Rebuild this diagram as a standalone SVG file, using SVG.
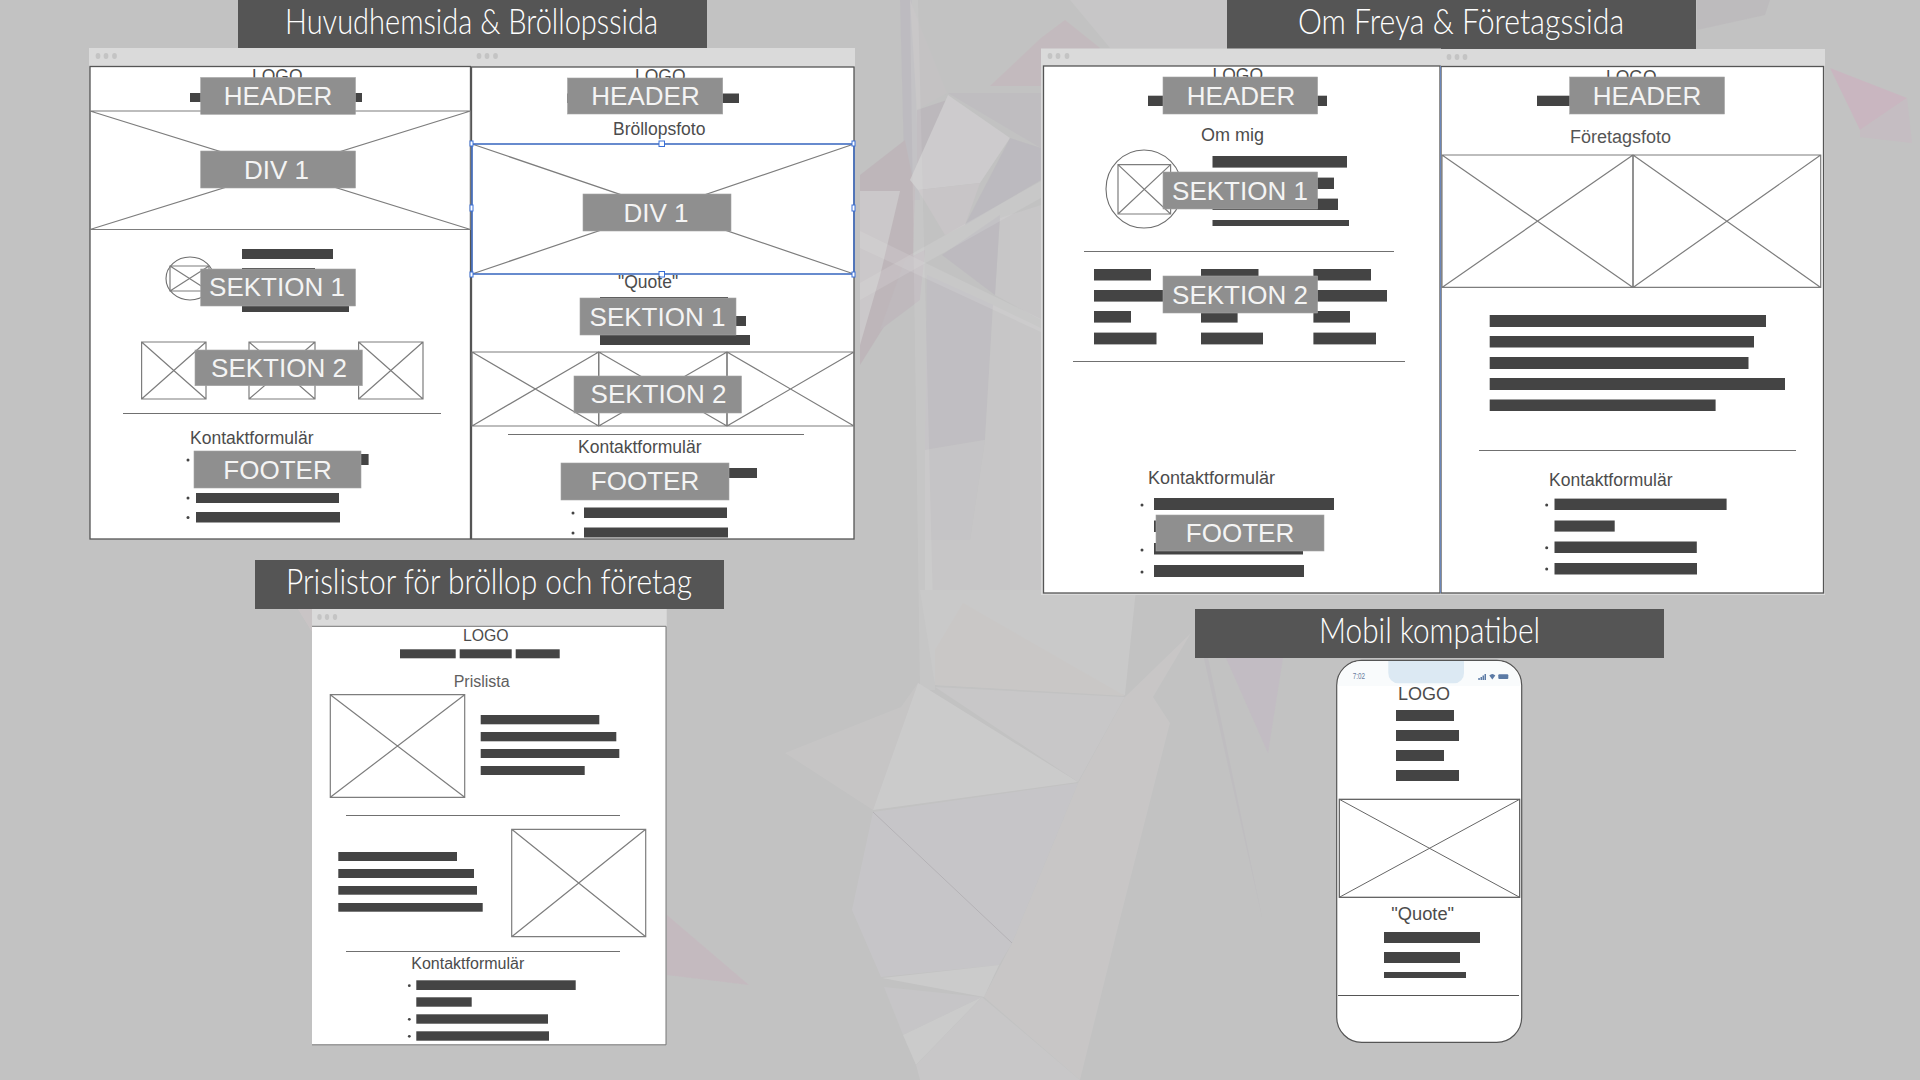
<svg xmlns="http://www.w3.org/2000/svg" width="1920" height="1080" viewBox="0 0 1920 1080">
<style>
.t{fill:#555}
.tt{font-family:"Lato","Liberation Sans",sans-serif;font-weight:300;font-size:36px;fill:#fff;text-anchor:start}
.c{fill:#dadada}
.d{fill:#c4c4c4}
.p{fill:#fff;stroke:#555;stroke-width:1.3}
.b{fill:#444}
.x{fill:none;stroke:#7d7d7d;stroke-width:1.2}
.l{stroke:#707070;stroke-width:1.2;fill:none}
.o{fill:#fff;stroke:#6e6e6e;stroke-width:1.1}
.g{fill:#8f8f8f;stroke:#a3a3a3;stroke-width:.6}
.lt{font-family:"Liberation Sans",Arial,sans-serif;font-size:26px;fill:#f4f4f4;text-anchor:middle}
.s{font-family:"Liberation Sans",Arial,sans-serif;font-size:17.5px;fill:#4c4c4c}
.h{fill:#fff;stroke:#3a70d8;stroke-width:1}
.bl{fill:none;stroke:#3a70d8;stroke-width:1.3}
.i{fill:#5b7aa5}
</style>
<rect id="bg" width="1920" height="1080" fill="#c2c2c2"/>
<g id="background" opacity=".55">
<polygon points="900,0 912,0 920,200 905,200" fill="#bab7bf"/>
<polygon points="910,0 947,93 917,110" fill="#c6c3c5"/>
<polygon points="860,175 905,140 915,190 912,290 885,325 860,365" fill="#bcaeb5"/>
<polygon points="860,191 900,191 880,276 860,345" fill="#d4ced1"/>
<polygon points="990,86 1041,38 1065,20 1100,48 1041,86" fill="#c5b5bb"/>
<polygon points="1070,0 1227,0 1227,48 1110,48" fill="#cccbcc"/>
<polygon points="948,93 1041,93 1041,148" fill="#bdb9c0"/>
<polygon points="917,110 947,100 925,170 917,170" fill="#b8b0b8"/>
<polygon points="948,95 1010,138 980,183 918,190 910,180" fill="#d6d4d6"/>
<polygon points="918,190 980,183 965,225 945,235" fill="#cec8cc"/>
<polygon points="1010,138 1041,148 1041,180 965,225" fill="#b8b5bd"/>
<polygon points="1041,205 1041,320 995,295 1000,218" fill="#cccacc"/>
<polygon points="942,255 1000,215 995,295" fill="#b9b5be"/>
<polygon points="927,275 993,305 985,440 925,450" fill="#c0bcc3"/>
<polygon points="993,305 1041,328 1041,540 970,540 985,440" fill="#cccbcc"/>
<polygon points="925,450 985,440 970,540 925,540" fill="#c9c7ca"/>
<polygon points="1041,540 1041,595 925,595 925,540" fill="#cccbcc"/>
<polygon points="905,260 925,250 920,300 880,330" fill="#bdb2ba"/>
<polygon points="860,231 860,248 1041,332 1041,319" fill="#fff" fill-opacity=".18"/>
<polygon points="860,283 860,300 1041,198 1041,181" fill="#fff" fill-opacity=".18"/>
<polygon points="910,0 918,0 935,690 920,690" fill="#fff" fill-opacity=".16"/>
<polygon points="920,590 1136,590 1125,695 935,685" fill="#cfcfcf"/>
<polygon points="963,603 1125,696 935,685 935,650" fill="#d0ccca"/>
<polygon points="785,753 901,707 918,683 873,810" fill="#cbc9c9"/>
<polygon points="918,683 1078,782 873,810" fill="#d4d3d4"/>
<polygon points="935,687 1125,697 1078,782" fill="#cdcccd"/>
<polygon points="1191,633 1153,697 1170,723 1119,923 1080,1080 984,997 1012,943 1078,783 1125,697" fill="#cdcbcb"/>
<polygon points="873,812 1078,783 1012,943 999,965 881,977 852,910" fill="#cbc9ce"/>
<polygon points="882,978 999,965 984,997" fill="#d3d3d3"/>
<polygon points="884,987 982,997 903,1035" fill="#cac9cc"/>
<polygon points="903,1035 982,997 916,1065" fill="#d3d3d3"/>
<polygon points="982,997 1080,1080 920,1080 916,1065" fill="#cdcccd"/>
<path d="M873 812 L1012 943" stroke="#aaa6ad" stroke-width="1" fill="none"/>
<polygon points="667,915 749,985 667,975" fill="#c7b5bd"/>
<polygon points="1226,658 1283,658 1268,753" fill="#c2b8c4"/>
<polygon points="1204,658 1208,658 1262,917" fill="#bdb9c0"/>
<polygon points="1830,68 1907,98 1860,130" fill="#d0aec0"/>
<polygon points="1860,130 1907,98 1912,143 1860,137" fill="#c9b9c2"/>
<polygon points="1697,0 1770,0 1765,15 1697,30" fill="#bab6ba"/>
<polygon points="296,606 312,606 312,632" fill="#cfc6c9"/>
</g>

<g id="title-1"><rect class="t" x="238" y="0" width="469" height="48"/><text class="tt" x="285" y="34" textLength="373" lengthAdjust="spacingAndGlyphs">Huvudhemsida &amp; Bröllopssida</text></g>
<g id="title-2"><rect class="t" x="1227" y="0" width="469" height="49"/><text class="tt" x="1298" y="34" textLength="326" lengthAdjust="spacingAndGlyphs">Om Freya &amp; Företagssida</text></g>
<g id="title-3"><rect class="t" x="255" y="560" width="469" height="49"/><text class="tt" x="286" y="594" textLength="406" lengthAdjust="spacingAndGlyphs">Prislistor för bröllop och företag</text></g>
<g id="title-4"><rect class="t" x="1195" y="609" width="469" height="49"/><text class="tt" x="1319" y="643" textLength="221" lengthAdjust="spacingAndGlyphs">Mobil kompatibel</text></g>

<g id="page-hem">
<rect class="c" x="89" y="48" width="382" height="19"/>
<ellipse class="d" cx="98" cy="56" rx="2.400" ry="3"/><ellipse class="d" cx="106" cy="56" rx="2.400" ry="3"/><ellipse class="d" cx="114.500" cy="56" rx="2.400" ry="3"/>
<rect class="p" x="90" y="66.500" width="380.500" height="472.500"/>
<text class="s" x="252" y="82">LOGO</text>
<rect class="b" x="190" y="93" width="172" height="9"/>
<path class="x" d="M90 111H470.500V229.500H90ZM90 111L470.500 229.500M470.500 111L90 229.500"/>
<rect class="g" x="200.700" y="77.500" width="154.800" height="36.800"/><text class="lt" x="278" y="105">HEADER</text>
<rect class="g" x="200.700" y="151" width="154.800" height="37"/><text class="lt" x="276.500" y="179">DIV 1</text>
<rect class="b" x="242" y="249" width="91" height="10"/>
<ellipse class="o" cx="190" cy="278.500" rx="24" ry="21.500"/>
<path class="x" d="M170 266H209V291H170ZM170 266L209 291M209 266L170 291"/>
<rect class="b" x="242" y="268" width="73" height="10"/>
<rect class="b" x="242" y="300" width="107" height="12"/>
<rect class="g" x="200.700" y="269" width="154.800" height="37"/><text class="lt" x="277" y="296">SEKTION 1</text>
<path class="x" d="M141.600 342H206V399H141.600ZM141.600 342L206 399M206 342L141.600 399"/>
<path class="x" d="M249 342H315V399H249ZM249 342L315 399M315 342L249 399"/>
<path class="x" d="M358.600 342H423V399H358.600ZM358.600 342L423 399M423 342L358.600 399"/>
<rect class="g" x="195" y="350" width="167.300" height="35.700"/><text class="lt" x="279" y="377">SEKTION 2</text>
<path class="l" d="M123 413.500H441"/>
<text class="s" x="190" y="443.500">Kontaktformulär</text>
<circle class="b" cx="188" cy="460" r="1.500"/><circle class="b" cx="188" cy="498" r="1.500"/><circle class="b" cx="188" cy="517.500" r="1.500"/>
<rect class="b" x="196" y="454" width="172.600" height="11"/>
<rect class="b" x="196" y="493" width="143" height="10"/>
<rect class="b" x="196" y="512" width="144" height="10.500"/>
<rect class="g" x="194" y="451" width="167" height="37"/><text class="lt" x="277.500" y="479">FOOTER</text>
</g>

<g id="page-brollop">
<rect class="c" x="471" y="48" width="384" height="19"/>
<ellipse class="d" cx="479" cy="56" rx="2.400" ry="3"/><ellipse class="d" cx="487" cy="56" rx="2.400" ry="3"/><ellipse class="d" cx="495.500" cy="56" rx="2.400" ry="3"/>
<rect class="p" x="471.500" y="67" width="382.500" height="472"/>
<text class="s" x="635" y="82">LOGO</text>
<rect class="b" x="567" y="93.500" width="172" height="9.500"/>
<rect class="g" x="567.500" y="78" width="155.200" height="36"/><text class="lt" x="645.500" y="105">HEADER</text>
<text class="s" x="613" y="134.500">Bröllopsfoto</text>
<path class="x" d="M472 144H854V274H472ZM472 144L854 274M854 144L472 274"/>
<rect class="bl" x="472" y="144" width="382" height="130"/>
<rect class="g" x="583" y="194" width="148" height="37"/><text class="lt" x="656" y="222">DIV 1</text>
<rect class="h" x="659" y="141" width="5.500" height="5.500"/><rect class="h" x="659" y="271.500" width="5.500" height="5.500"/>
<rect class="h" x="470" y="205" width="3" height="6"/><rect class="h" x="852" y="205" width="3" height="6"/>
<rect class="h" x="470" y="141" width="3" height="5"/><rect class="h" x="852" y="141" width="3" height="5"/>
<rect class="h" x="470" y="272" width="3" height="5"/><rect class="h" x="852" y="272" width="3" height="5"/>
<text class="s" x="618" y="288">"Quote"</text>
<rect class="b" x="600" y="297" width="128" height="6"/>
<rect class="b" x="600" y="316" width="146" height="10"/>
<rect class="b" x="600" y="335" width="150" height="10"/>
<rect class="g" x="580" y="298" width="156" height="37"/><text class="lt" x="657.500" y="326">SEKTION 1</text>
<path class="x" d="M472 352H598.700V426H472ZM472 352L598.700 426M598.700 352L472 426"/>
<path class="x" d="M598.700 352H727V426H598.700ZM598.700 352L727 426M727 352L598.700 426"/>
<path class="x" d="M727 352H854V426H727ZM727 352L854 426M854 352L727 426"/>
<rect class="g" x="574" y="376" width="167.500" height="37"/><text class="lt" x="658.500" y="403">SEKTION 2</text>
<path class="l" d="M508 434.500H804"/>
<text class="s" x="578" y="453">Kontaktformulär</text>
<rect class="b" x="729" y="468" width="28" height="10"/>
<rect class="g" x="561" y="463" width="168" height="37"/><text class="lt" x="645" y="490">FOOTER</text>
<circle class="b" cx="573" cy="513" r="1.500"/><circle class="b" cx="573" cy="533" r="1.500"/>
<rect class="b" x="584" y="507.500" width="143" height="10.500"/>
<rect class="b" x="584" y="527.500" width="144" height="10"/>
</g>

<g id="page-om">
<rect class="c" x="1041" y="48.500" width="400" height="18"/>
<ellipse class="d" cx="1050" cy="56" rx="2.400" ry="3"/><ellipse class="d" cx="1058" cy="56" rx="2.400" ry="3"/><ellipse class="d" cx="1067" cy="56" rx="2.400" ry="3"/>
<rect x="1041" y="66" width="2" height="529" class="c"/>
<rect x="1041" y="593" width="400" height="2" class="c"/>
<rect class="p" x="1043.500" y="66" width="396.500" height="527"/>
<text class="s" x="1212.500" y="81">LOGO</text>
<rect class="b" x="1148" y="95.700" width="179" height="10.300"/>
<rect class="g" x="1163" y="77" width="154.600" height="37"/><text class="lt" x="1241" y="105">HEADER</text>
<text class="s" x="1201" y="141" style="font-size:18px">Om mig</text>
<ellipse class="o" cx="1144" cy="189" rx="38" ry="39"/>
<path class="x" d="M1118 164.600H1170.600V214H1118ZM1118 164.600L1170.600 214M1170.600 164.600L1118 214"/>
<rect class="b" x="1212.500" y="156" width="134.500" height="11.600"/>
<rect class="b" x="1212.500" y="177.600" width="121.500" height="11.400"/>
<rect class="b" x="1212.500" y="198.600" width="125.500" height="11.400"/>
<rect class="b" x="1212.500" y="220" width="136.500" height="6"/>
<rect class="g" x="1163" y="172" width="154.600" height="37"/><text class="lt" x="1240" y="200">SEKTION 1</text>
<path class="l" d="M1084 251.500H1394"/>
<rect class="b" x="1094" y="269" width="57" height="11.500"/><rect class="b" x="1094" y="290" width="75" height="11.600"/><rect class="b" x="1094" y="311" width="37" height="11.600"/><rect class="b" x="1094" y="332.600" width="62.500" height="11.800"/>
<rect class="b" x="1201" y="269" width="57.500" height="11.500"/><rect class="b" x="1201" y="311" width="36.600" height="11.600"/><rect class="b" x="1201" y="332.600" width="62" height="11.800"/>
<rect class="b" x="1313.400" y="269" width="57.600" height="11.500"/><rect class="b" x="1313.400" y="290" width="73.600" height="11.600"/><rect class="b" x="1313.400" y="311" width="36.600" height="11.600"/><rect class="b" x="1313.400" y="332.600" width="62.600" height="11.800"/>
<rect class="g" x="1163" y="276" width="154.600" height="37"/><text class="lt" x="1240" y="304">SEKTION 2</text>
<path class="l" d="M1073 361.500H1405"/>
<text class="s" x="1148" y="484" style="font-size:18px">Kontaktformulär</text>
<circle class="b" cx="1142" cy="505" r="1.500"/><circle class="b" cx="1142" cy="550" r="1.500"/><circle class="b" cx="1142" cy="572" r="1.500"/>
<rect class="b" x="1154" y="498" width="180" height="12"/>
<rect class="b" x="1154" y="520.500" width="10" height="11.500"/>
<rect class="b" x="1154" y="543" width="149" height="11.500"/>
<rect class="b" x="1154" y="565" width="150" height="12"/>
<rect class="g" x="1156" y="515" width="168" height="36"/><text class="lt" x="1240" y="542">FOOTER</text>
</g>

<g id="page-foretag">
<rect class="c" x="1441" y="49" width="384" height="17.500"/>
<ellipse class="d" cx="1449" cy="57" rx="2.400" ry="3"/><ellipse class="d" cx="1457" cy="57" rx="2.400" ry="3"/><ellipse class="d" cx="1465" cy="57" rx="2.400" ry="3"/>
<rect x="1823" y="66" width="2" height="529" class="c"/>
<rect x="1440" y="593" width="385" height="2" class="c"/>
<rect class="p" x="1441" y="66.500" width="382.500" height="526.500"/>
<path d="M1440.500 66V593" stroke="#6d8fcf" stroke-width=".8" fill="none"/>
<text class="s" x="1606" y="83">LOGO</text>
<rect class="b" x="1537" y="95.700" width="40" height="10.300"/>
<rect class="g" x="1569.700" y="77" width="154.800" height="37"/><text class="lt" x="1647" y="105">HEADER</text>
<text class="s" x="1570" y="143" style="font-size:18px;fill:#555">Företagsfoto</text>
<path class="x" d="M1442 155H1633V287.400H1442ZM1442 155L1633 287.400M1633 155L1442 287.400"/>
<path class="x" d="M1633 155H1820.700V287.400H1633ZM1633 155L1820.700 287.400M1820.700 155L1633 287.400"/>
<rect class="b" x="1489.700" y="315" width="276.300" height="12"/>
<rect class="b" x="1489.700" y="336" width="264.300" height="11.500"/>
<rect class="b" x="1489.700" y="357" width="258.800" height="12"/>
<rect class="b" x="1489.700" y="378" width="295.300" height="12"/>
<rect class="b" x="1489.700" y="399.500" width="225.900" height="11.500"/>
<path class="l" d="M1479 450.500H1796"/>
<text class="s" x="1549" y="486">Kontaktformulär</text>
<circle class="b" cx="1546.700" cy="505" r="1.500"/><circle class="b" cx="1546.700" cy="547.700" r="1.500"/><circle class="b" cx="1546.700" cy="569" r="1.500"/>
<rect class="b" x="1554.500" y="498.600" width="172.100" height="11.400"/>
<rect class="b" x="1554.500" y="520.500" width="60.200" height="11.100"/>
<rect class="b" x="1554.500" y="541.500" width="142.300" height="11.500"/>
<rect class="b" x="1554.500" y="563" width="142.500" height="11.500"/>
</g>

<g id="page-prislista">
<rect class="c" x="312" y="609" width="354.700" height="17.500"/>
<ellipse class="d" cx="319.500" cy="617" rx="2.200" ry="3"/><ellipse class="d" cx="327" cy="617" rx="2.200" ry="3"/><ellipse class="d" cx="335" cy="617" rx="2.200" ry="3"/>
<rect x="312" y="626.300" width="354" height="418.500" fill="#fff"/>
<path d="M312 626.300H666V1044.800H312" fill="none" stroke="#777" stroke-width="1"/>
<text class="s" x="463" y="640.700" style="font-size:15.800px">LOGO</text>
<rect class="b" x="400" y="649.300" width="55.700" height="9"/><rect class="b" x="459.700" y="649.300" width="52" height="9"/><rect class="b" x="515.700" y="649.300" width="44" height="9"/>
<text class="s" x="453.700" y="687.300" style="font-size:16px;fill:#606060">Prislista</text>
<path class="x" d="M330.300 694.700H464.700V797.300H330.300ZM330.300 694.700L464.700 797.300M464.700 694.700L330.300 797.300"/>
<rect class="b" x="480.700" y="715" width="118.600" height="9.300"/><rect class="b" x="480.700" y="732" width="135.600" height="9.300"/><rect class="b" x="480.700" y="749" width="138.600" height="9"/><rect class="b" x="480.700" y="766" width="104" height="9"/>
<path class="l" d="M346 815.500H620"/>
<path class="x" d="M511.700 829.300H645.700V936.700H511.700ZM511.700 829.300L645.700 936.700M645.700 829.300L511.700 936.700"/>
<rect class="b" x="338.300" y="852" width="118.700" height="9"/><rect class="b" x="338.300" y="869" width="135.700" height="9"/><rect class="b" x="338.300" y="886" width="138.700" height="8.700"/><rect class="b" x="338.300" y="903" width="144.400" height="8.700"/>
<path class="l" d="M346 951.500H620"/>
<text class="s" x="411.300" y="969.300" style="font-size:16px">Kontaktformulär</text>
<circle class="b" cx="409.300" cy="985.700" r="1.400"/><circle class="b" cx="409.300" cy="1019.300" r="1.400"/><circle class="b" cx="409.300" cy="1036.300" r="1.400"/>
<rect class="b" x="416.300" y="980.300" width="159.400" height="9.700"/><rect class="b" x="416.300" y="997.300" width="55.400" height="9.400"/><rect class="b" x="416.300" y="1014.300" width="131.700" height="9.400"/><rect class="b" x="416.300" y="1031.300" width="132.700" height="9.400"/>
</g>

<g id="page-mobil">
<rect x="1336.700" y="660.300" width="185" height="382" rx="25" fill="#fff" stroke="#555" stroke-width="1.200"/>
<path d="M1338 686V685A24 24 0 0 1 1362 661H1496A24 24 0 0 1 1520 685V686Z" fill="#f9fbfc"/>
<path d="M1388.300 661H1464V673A10 10 0 0 1 1454 683.300H1398.300A10 10 0 0 1 1388.300 673Z" fill="#dce9f3"/>
<text x="1352.700" y="679" font-family="Liberation Sans, Arial, sans-serif" font-size="9" fill="#6a7da0" textLength="12.300" lengthAdjust="spacingAndGlyphs">7:02</text>
<rect class="i" x="1478.300" y="678" width="1.500" height="2"/><rect class="i" x="1480.500" y="677" width="1.500" height="3"/><rect class="i" x="1482.500" y="675.500" width="1.500" height="4.500"/><rect class="i" x="1484.500" y="674" width="1.500" height="6"/>
<path class="i" d="M1489.300 675.500Q1492.300 672.500 1495.300 675.500L1492.300 679.500Z"/>
<rect class="i" x="1498.300" y="674.300" width="10" height="4.700" rx="1"/>
<text class="s" x="1398" y="700" style="font-size:18px">LOGO</text>
<rect class="b" x="1396" y="710" width="58" height="11"/><rect class="b" x="1396" y="730" width="63" height="11"/><rect class="b" x="1396" y="750" width="48" height="11"/><rect class="b" x="1396" y="770" width="63" height="11"/>
<rect x="1339.300" y="799.300" width="180.400" height="98" fill="none" stroke="#555" stroke-width="1.200"/>
<path d="M1339.300 799.300L1519.700 897.300M1519.700 799.300L1339.300 897.300" fill="none" stroke="#666" stroke-width="1"/>
<text class="s" x="1391.300" y="920" style="font-size:18.300px">"Quote"</text>
<rect class="b" x="1384" y="932" width="96" height="11"/><rect class="b" x="1384" y="952" width="76" height="11"/><rect class="b" x="1384" y="972" width="82" height="6"/>
<path d="M1338 995.500H1519" stroke="#555" stroke-width="1" fill="none"/>
</g>
</svg>
